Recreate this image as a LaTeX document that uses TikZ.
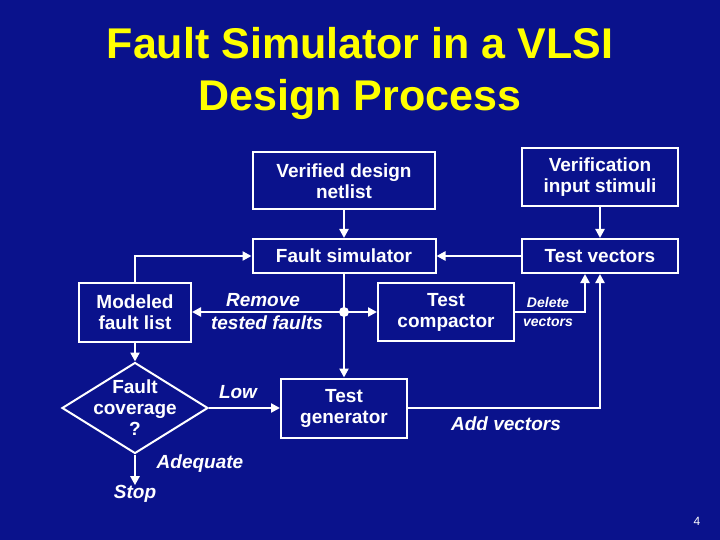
\documentclass[tikz,border=0pt]{standalone}
\usepackage{fontspec}
\setmainfont{Liberation Sans}
\usetikzlibrary{shapes.geometric,arrows.meta}
\definecolor{bg}{RGB}{10,18,140}
\definecolor{ttl}{RGB}{255,255,0}
\begin{document}
\begin{tikzpicture}[x=1pt,y=-1pt,
  box/.style={draw=white,line width=2pt,inner sep=0pt,text=white,font=\fontsize{19}{21}\selectfont\bfseries,align=center},
  lab/.style={text=white,font=\fontsize{19}{20}\selectfont\bfseries\itshape,inner sep=0pt},
  con/.style={draw=white,line width=2.5pt,-{Triangle[length=9pt,width=9pt]}},
  ln/.style={draw=white,line width=2.5pt}]
\fill[bg] (0,0) rectangle (720,540);
\useasboundingbox (0,0) rectangle (720,540);
\node[text=ttl,font=\fontsize{43}{52}\selectfont\bfseries,align=center] (title) at (360,73) {Fault Simulator in a VLSI\\Design Process};
\node[box,minimum width=182pt,minimum height=57pt] (vd) at (344,181) {Verified design\\netlist};
\node[box,minimum width=156pt,minimum height=58pt] (vs) at (600,177) {Verification\\input stimuli};
\node[box,minimum width=183pt,minimum height=34pt] (fs) at (344,256) {Fault simulator};
\node[box,minimum width=156pt,minimum height=34pt] (tv) at (600,256) {Test vectors};
\node[box,minimum width=112pt,minimum height=59pt] (mf) at (135,312) {Modeled\\fault list};
\node[box,minimum width=136pt,minimum height=58pt] (tc) at (446,312) {Test\\compactor};
\node[box,diamond,inner sep=-9pt,minimum width=146pt,minimum height=91pt,aspect=1.6] (fc) at (135,408) {Fault\\coverage\\?};
\node[box,minimum width=126pt,minimum height=59pt] (tg) at (344,408) {Test\\generator};
\node[lab] (stop) at (135,494) {Stop};
\fill[white] (344,312) circle (5pt);
\coordinate (j) at (344,312);
\node[lab] at (263,300) {Remove};
\node[lab] at (267,323) {tested faults};
\node[lab,font=\fontsize{14}{15}\selectfont\bfseries\itshape] at (548,302) {Delete};
\node[lab,font=\fontsize{14}{15}\selectfont\bfseries\itshape] at (548,322) {vectors};
\node[lab] at (238,392) {Low};
\node[lab] at (506,424) {Add vectors};
\node[lab] at (200,464) {Adequate};
\node[text=white,font=\fontsize{12}{12}\selectfont] at (697,521) {4};
\draw[con] (vd) -- (fs);
\draw[con] (vs) -- (tv);
\draw[con] (tv) -- (fs);
\draw[con] (mf.north) |- (fs.west);
\draw[ln] (fs.south) -- (j);
\draw[con] (j) -- (tg.north);
\draw[con] (j) -- (mf.east);
\draw[con] (j) -- (tc.west);
\draw[con] (tc.east) -| ([xshift=-15pt]tv.south);
\draw[con] (tg.east) -| (tv.south);
\draw[con] (mf.south) -- (fc.north);
\draw[con] (fc.east) -- (tg.west);
\draw[con] (fc.south) -- (stop.north);
\end{tikzpicture}
\end{document}
